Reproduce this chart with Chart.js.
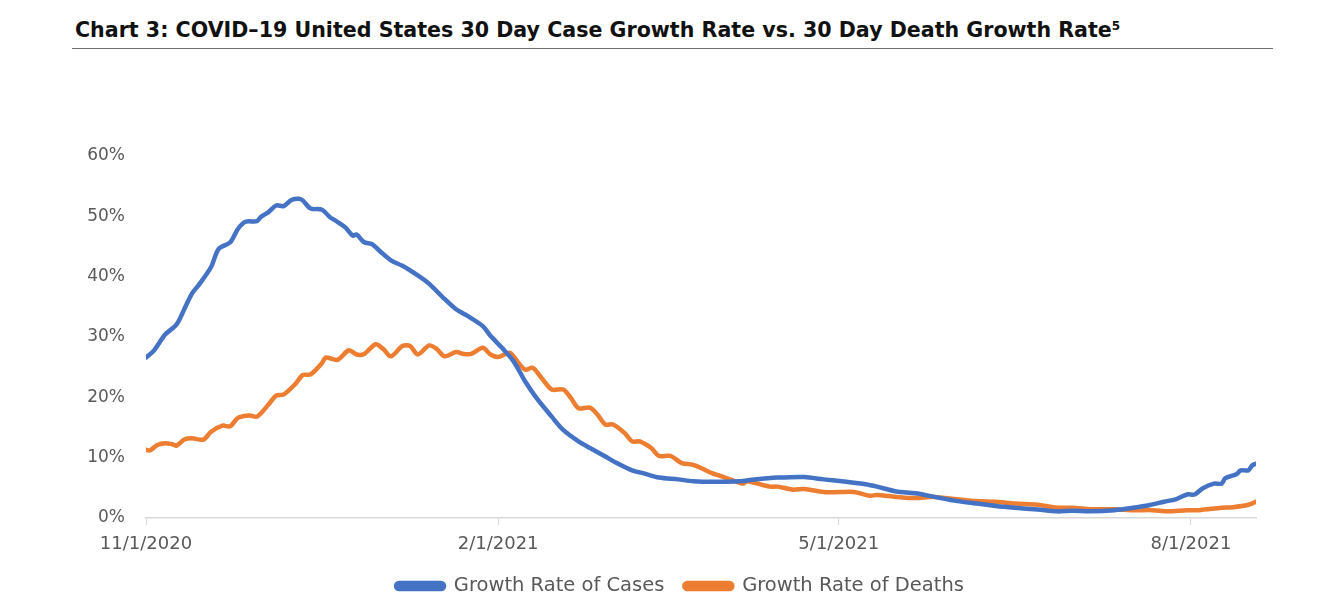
<!DOCTYPE html>
<html>
<head>
<meta charset="utf-8">
<script src="https://cdn.jsdelivr.net/npm/chart.js@4/dist/chart.umd.min.js"></script>
<style>
  html, body { margin: 0; padding: 0; background: #fff; }
  body { width: 1342px; height: 610px; position: relative; overflow: hidden; }
  #title {
    position: absolute; left: 75px; top: 18px;
    font-family: "DejaVu Sans", sans-serif; font-weight: bold; font-size: 20.6px;
    color: #111; white-space: nowrap;
  }
  #title sup { font-size: 12px; vertical-align: 7px; line-height: 0; }
  #rule { position: absolute; left: 72px; top: 48px; width: 1201px; height: 0; border-top: 1.5px solid #707070; }
  #wrap { position: absolute; left: 0; top: 0; width: 1342px; height: 620px; }
</style>
</head>
<body>
<div id="title">Chart 3: COVID–19 United States 30 Day Case Growth Rate vs. 30 Day Death Growth Rate<sup>5</sup></div>
<div id="rule"></div>
<div id="wrap"><canvas id="c" width="1342" height="620"></canvas></div>
<script>
// Days since 11/1/2020
const tickDays = [0, 92, 181, 273];
const tickLabels = ['11/1/2020', '2/1/2021', '5/1/2021', '8/1/2021'];
const seriesNames = ['Growth Rate of Cases', 'Growth Rate of Deaths'];

const caseDays = [0, 2, 5, 8, 10, 12, 14, 17, 19, 22, 24, 26, 29, 30, 32, 34, 36, 38, 40, 41, 43, 46, 48, 50, 52, 54, 55, 57, 59, 61, 64, 67, 71, 74, 78, 81, 84, 88, 90, 93, 96, 99, 102, 106, 109, 113, 116, 120, 123, 127, 130, 134, 139, 143, 148, 155, 159, 165, 172, 177, 183, 188, 191, 196, 201, 206, 212, 217, 222, 227, 233, 238, 242, 247, 253, 258, 262, 266, 269, 272, 274, 276, 279, 281, 282, 285, 286, 288, 289, 290];
const caseValues = [26.6, 27.7, 30.4, 32.1, 34.6, 37.2, 38.8, 41.6, 44.6, 45.7, 47.9, 49.1, 49.2, 49.9, 50.7, 51.8, 51.7, 52.7, 52.9, 52.6, 51.3, 51.1, 49.9, 49.1, 48.2, 46.8, 47.0, 45.7, 45.4, 44.3, 42.7, 41.8, 40.2, 38.8, 36.3, 34.6, 33.5, 31.8, 30.2, 28.2, 26.0, 22.7, 19.9, 16.8, 14.6, 12.7, 11.6, 10.2, 9.1, 7.9, 7.4, 6.7, 6.4, 6.1, 6.0, 6.1, 6.4, 6.7, 6.8, 6.4, 6.0, 5.6, 5.2, 4.4, 4.1, 3.5, 2.8, 2.4, 2.0, 1.7, 1.4, 1.1, 1.2, 1.1, 1.3, 1.7, 2.1, 2.7, 3.1, 3.9, 3.9, 4.9, 5.7, 5.7, 6.6, 7.3, 7.9, 7.9, 8.7, 9.0];

const deathDays = [0, 1, 3, 5, 7, 8, 10, 12, 15, 17, 20, 22, 24, 27, 29, 32, 34, 36, 39, 41, 43, 46, 47, 50, 53, 55, 57, 60, 62, 64, 67, 69, 71, 74, 76, 78, 81, 83, 85, 88, 90, 92, 95, 96, 99, 101, 103, 106, 109, 111, 113, 116, 118, 120, 122, 125, 127, 129, 132, 134, 137, 140, 143, 148, 150, 153, 156, 157, 163, 165, 169, 172, 177, 181, 185, 189, 191, 196, 201, 206, 212, 217, 222, 227, 233, 238, 242, 247, 253, 258, 263, 267, 272, 275, 281, 284, 288, 290];
const deathValues = [11.3, 11.2, 12.1, 12.4, 12.2, 12.0, 13.0, 13.2, 13.0, 14.3, 15.3, 15.2, 16.6, 17.0, 16.8, 18.8, 20.3, 20.5, 22.2, 23.7, 23.8, 25.7, 26.6, 26.2, 27.8, 27.1, 27.2, 28.8, 28.0, 26.8, 28.5, 28.5, 27.1, 28.6, 28.0, 26.8, 27.5, 27.2, 27.2, 28.2, 27.1, 26.7, 27.4, 26.8, 24.6, 24.9, 23.5, 21.3, 21.3, 19.9, 18.2, 18.3, 17.1, 15.5, 15.5, 14.1, 12.7, 12.7, 11.6, 10.3, 10.3, 9.1, 8.8, 7.4, 7.0, 6.3, 5.7, 6.1, 5.2, 5.2, 4.7, 4.8, 4.3, 4.3, 4.3, 3.7, 3.8, 3.5, 3.3, 3.5, 3.1, 2.8, 2.7, 2.4, 2.2, 1.7, 1.7, 1.45, 1.45, 1.3, 1.3, 1.1, 1.3, 1.3, 1.7, 1.8, 2.2, 2.7];

const toPoints = (xs, ys) => xs.map((x, i) => ({ x: x, y: ys[i] }));

const FONT = '"DejaVu Sans", sans-serif';
const GREY = '#595959';
const AXIS = '#d9d9d9';

new Chart(document.getElementById('c'), {
  type: 'line',
  data: {
    datasets: [
      { label: seriesNames[0], data: toPoints(caseDays, caseValues), borderColor: '#4472C4', backgroundColor: '#4472C4', borderWidth: 4.5, pointRadius: 0, tension: 0.3, borderCapStyle: 'round', borderJoinStyle: 'round' },
      { label: seriesNames[1], data: toPoints(deathDays, deathValues), borderColor: '#ED7D31', backgroundColor: '#ED7D31', borderWidth: 4.5, pointRadius: 0, tension: 0.3, borderCapStyle: 'round', borderJoinStyle: 'round' }
    ]
  },
  options: {
    responsive: false,
    animation: false,
    layout: { padding: { left: 84, right: 66, top: 156, bottom: 14.25 } },
    plugins: {
      legend: {
        position: 'bottom',
        labels: { boxWidth: 48, boxHeight: 6, useBorderRadius: true, borderRadius: 3, color: GREY, font: { family: FONT, size: 19.5 }, padding: 20 }
      },
      tooltip: { enabled: false }
    },
    scales: {
      x: {
        type: 'linear', min: 0, max: 290,
        afterBuildTicks: (s) => { s.ticks = tickDays.map(v => ({ value: v })); },
        afterFit: (s) => { s.height = 38.25; },
        ticks: { color: GREY, font: { family: FONT, size: 18 }, maxRotation: 0, autoSkip: false, padding: 9,
          callback: (v) => { const i = tickDays.indexOf(v); return i >= 0 ? tickLabels[i] : ''; } },
        grid: { drawOnChartArea: false, drawTicks: true, tickLength: 7, color: AXIS },
        border: { color: AXIS, width: 1.5 }
      },
      y: {
        min: 0, max: 60,
        afterFit: (s) => { s.width = 62; },
        ticks: { stepSize: 10, color: GREY, font: { family: FONT, size: 17 }, padding: 13, callback: (v) => v + '%' },
        grid: { display: false },
        border: { display: false }
      },
      ySpacer: {
        position: 'right', display: true, min: 0, max: 1,
        afterFit: (s) => { s.width = 20; },
        ticks: { display: false },
        grid: { display: false, drawTicks: false },
        border: { display: false }
      }
    }
  }
});
</script>
</body>
</html>
